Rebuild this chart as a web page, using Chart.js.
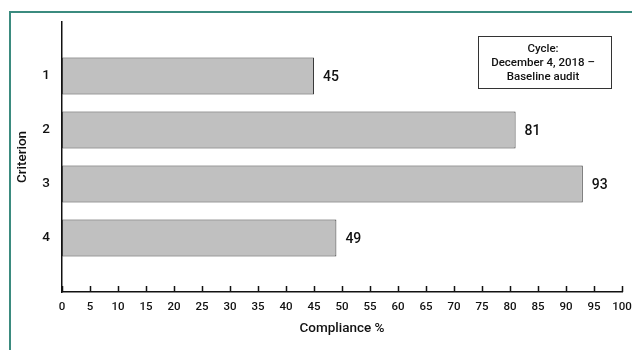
<!DOCTYPE html>
<html>
<head>
<meta charset="utf-8">
<script src="https://cdn.jsdelivr.net/npm/chart.js@4/dist/chart.umd.min.js"></script>
<style>
  html, body { margin: 0; padding: 0; background: #fff; }
  #wrap { width: 632px; height: 350px; position: relative; }
</style>
</head>
<body>
<div id="wrap"><canvas id="c" width="632" height="350"></canvas></div>
<script>
// Criteria and their compliance scores
const criteria = [1, 2, 3, 4];
const criterionLabels = ['1', '2', '3', '4'];
const compliance = [45, 81, 93, 49];
const cycleNote = ['Cycle:', 'December 4, 2018 \u2013', 'Baseline audit'];

const FONT = "Roboto, 'Liberation Sans', Arial, sans-serif";

// Outer frame (top and left rules)
const framePlugin = {
  id: 'frame',
  beforeDraw(chart) {
    const ctx = chart.ctx;
    ctx.save();
    ctx.strokeStyle = '#3b8b7f';
    ctx.lineWidth = 2;
    ctx.beginPath();
    ctx.moveTo(10, chart.height);
    ctx.lineTo(10, 12);
    ctx.lineTo(chart.width, 12);
    ctx.stroke();
    ctx.restore();
  }
};

// Short upward tick marks on the value axis
const tickMarks = {
  id: 'tickMarks',
  afterDraw(chart) {
    const xs = chart.scales.x;
    const ctx = chart.ctx;
    const y0 = chart.chartArea.bottom;
    ctx.save();
    ctx.strokeStyle = '#111';
    ctx.lineWidth = 1.5;
    ctx.beginPath();
    xs.ticks.forEach(t => {
      const px = Math.round(xs.getPixelForValue(t.value)) + 0.5;
      ctx.moveTo(px, y0);
      ctx.lineTo(px, y0 - 6);
    });
    ctx.stroke();
    ctx.restore();
  }
};

// Value labels at the end of each bar
const valueLabels = {
  id: 'valueLabels',
  afterDatasetsDraw(chart) {
    const ctx = chart.ctx;
    const meta = chart.getDatasetMeta(0);
    ctx.save();
    ctx.fillStyle = '#111';
    ctx.font = "500 14px " + FONT;
    ctx.textAlign = 'left';
    ctx.textBaseline = 'middle';
    meta.data.forEach((bar, i) => {
      ctx.fillText(String(compliance[i]), bar.x + 9, bar.y + 1);
    });
    ctx.restore();
  }
};

// Boxed note in the upper right
const notePlugin = {
  id: 'note',
  afterDraw(chart) {
    const ctx = chart.ctx;
    const x = 478.5, y = 36.5, w = 133, h = 52;
    ctx.save();
    ctx.fillStyle = '#fff';
    ctx.fillRect(x, y, w, h);
    ctx.strokeStyle = '#333';
    ctx.lineWidth = 1;
    ctx.strokeRect(x, y, w, h);
    ctx.fillStyle = '#111';
    ctx.font = "500 11.5px " + FONT;
    ctx.textAlign = 'center';
    ctx.textBaseline = 'middle';
    cycleNote.forEach((line, i) => {
      ctx.fillText(line, x + w / 2 - 2, y + 13 + i * 14);
    });
    ctx.restore();
  }
};

new Chart(document.getElementById('c'), {
  type: 'bar',
  data: {
    datasets: [{
      data: criteria.map((c, i) => ({ x: compliance[i], y: c })),
      backgroundColor: '#c0c0c0',
      borderColor: '#3a3a3a',
      borderWidth: 1,
      borderSkipped: false,
      categoryPercentage: 1,
      barPercentage: 0.685
    }]
  },
  options: {
    indexAxis: 'y',
    responsive: false,
    animation: false,
    events: [],
    layout: { padding: { left: 0, top: 22, right: 0, bottom: 0 } },
    plugins: { legend: { display: false }, tooltip: { enabled: false } },
    scales: {
      x: {
        type: 'linear',
        min: 0,
        max: 100,
        afterFit(s) { s.height = 58; s.paddingRight = 10; },
        ticks: {
          stepSize: 5,
          padding: 8,
          color: '#111',
          font: { family: FONT, size: 11.5, weight: '500' },
          maxRotation: 0,
          autoSkip: false
        },
        grid: { display: false, drawTicks: false },
        border: { display: true, color: '#111', width: 1.5 },
        title: {
          display: true,
          text: 'Compliance %',
          color: '#111',
          font: { family: FONT, size: 13.5, weight: '500' },
          padding: { top: 0, bottom: 13 }
        }
      },
      y: {
        type: 'linear',
        min: 0,
        max: 5,
        reverse: true,
        offset: false,
        afterFit(s) { s.width = 62; },
        ticks: {
          stepSize: 1,
          padding: 12,
          color: '#111',
          font: { family: FONT, size: 13.5, weight: '500' },
          callback(v) {
            const i = criteria.indexOf(v);
            return i >= 0 ? criterionLabels[i] : '';
          }
        },
        grid: { display: false, drawTicks: false },
        border: { display: true, color: '#111', width: 1.5 },
        title: {
          display: true,
          text: 'Criterion',
          color: '#111',
          font: { family: FONT, size: 13.5, weight: '500' },
          padding: { top: 15, bottom: 0 }
        }
      }
    }
  },
  plugins: [framePlugin, tickMarks, valueLabels, notePlugin]
});
</script>
</body>
</html>
